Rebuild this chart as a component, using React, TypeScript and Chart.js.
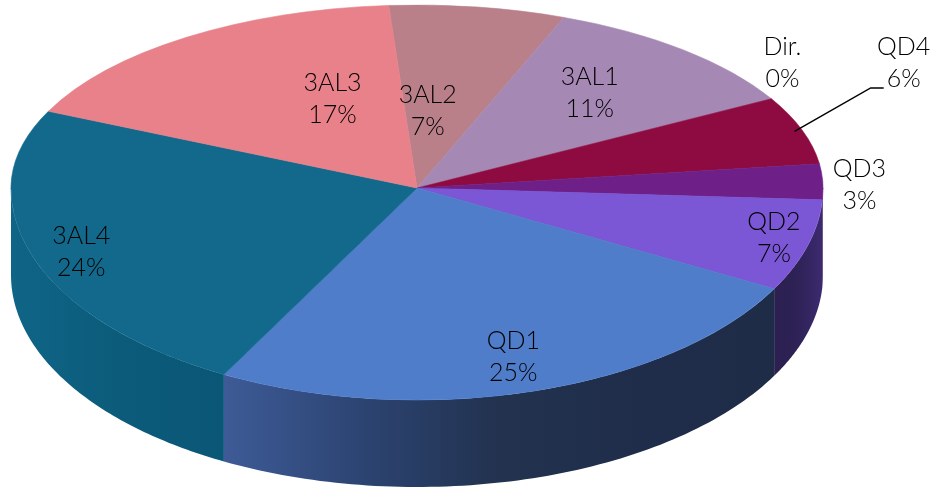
import React, { useEffect, useRef } from "react";
import { Chart, registerables } from "chart.js";

Chart.register(...registerables);

// ---- data (clockwise from the top) ----
const categories = ["3AL2", "3AL1", "Dir.", "QD4", "QD3", "QD2", "QD1", "3AL4", "3AL3"];
const shares = [7, 11, 0, 6, 3, 7, 25, 24, 17];

// ---- style ----
const topColors = [
  "#B9808A", "#A688B4", "#A688B4", "#8D0B40", "#6E2088",
  "#7B56D5", "#4F7DCA", "#12698B", "#E8818A",
];
const sideColors: string[][] = [
  ["#8E5F66", "#7A5058"],
  ["#7E6689", "#6A5574"],
  ["#7E6689", "#6A5574"],
  ["#6A0830", "#5A0628"],
  ["#4A1763", "#55196E"],
  ["#2B2050", "#2E2256", "#3C2A70"],
  ["#3E5B97", "#2C4472", "#22324F", "#1F2D4A", "#1F2C48"],
  ["#0F6586", "#0C5B7B", "#0A5677"],
  ["#B5606A", "#A0525C"],
];
// label placement: radial factor, angle tweak (deg), leader line
const labelLayout = [
  { r: 0.42, d: -5, leader: false },
  { r: 0.67, d: -1.6, leader: false },
  { r: 1.13, d: -8, leader: false },
  { r: 1.38, d: -11.3, leader: true },
  { r: 1.09, d: 1.2, leader: false },
  { r: 0.91, d: -0.8, leader: false },
  { r: 0.83, d: 0, leader: false },
  { r: 0.88, d: -1.6, leader: false },
  { r: 0.53, d: 11.5, leader: false },
];

// projected pie geometry
const CX = 417;
const CY = 188;
const RX = 406;
const RY_BACK = 183;
const RY_FRONT = 212;
const DEPTH = 87;
const FONT = "300 25px Lato, 'DejaVu Sans', sans-serif";

const ryOf = (phi: number) => (Math.sin(phi) > 0 ? RY_FRONT : RY_BACK);
const proj = (phi: number, k: number) => ({
  x: CX + k * RX * Math.cos(phi),
  y: CY + k * ryOf(phi) * Math.sin(phi),
});

const pie3d = {
  id: "pie3d",
  beforeDatasetsDraw(chart: any) {
    const ctx: CanvasRenderingContext2D = chart.ctx;
    const meta = chart.getDatasetMeta(0);
    // extruded sides (front half only)
    meta.data.forEach((arc: any, i: number) => {
      const a = Math.max(arc.startAngle, 0);
      const b = Math.min(arc.endAngle, Math.PI);
      if (b <= a) return;
      const N = 80;
      ctx.beginPath();
      for (let j = 0; j <= N; j++) {
        const t = a + ((b - a) * j) / N;
        const x = CX + RX * Math.cos(t);
        const y = CY + RY_FRONT * Math.sin(t);
        if (j === 0) ctx.moveTo(x, y);
        else ctx.lineTo(x, y);
      }
      for (let j = N; j >= 0; j--) {
        const t = a + ((b - a) * j) / N;
        ctx.lineTo(CX + RX * Math.cos(t), CY + RY_FRONT * Math.sin(t) + DEPTH);
      }
      ctx.closePath();
      const xl = CX + RX * Math.cos(b);
      const xr = CX + RX * Math.cos(a);
      const g = ctx.createLinearGradient(xl, 0, xr + 0.01, 0);
      const stops = sideColors[i];
      stops.forEach((c, s) => g.addColorStop(stops.length === 1 ? 0 : s / (stops.length - 1), c));
      ctx.fillStyle = g;
      ctx.fill();
    });
    // back half of the top face, drawn by Chart.js itself
    const el = meta.data[0];
    ctx.save();
    ctx.beginPath();
    ctx.rect(0, 0, chart.width, CY + 1);
    ctx.clip();
    ctx.translate(CX, CY);
    ctx.scale(RX / el.outerRadius, RY_BACK / el.outerRadius);
    ctx.translate(-el.x, -el.y);
  },
  afterDatasetsDraw(chart: any) {
    const ctx: CanvasRenderingContext2D = chart.ctx;
    ctx.restore();
    const meta = chart.getDatasetMeta(0);
    const el = meta.data[0];
    // front half of the top face
    ctx.save();
    ctx.beginPath();
    ctx.rect(0, CY, chart.width, chart.height - CY);
    ctx.clip();
    ctx.translate(CX, CY);
    ctx.scale(RX / el.outerRadius, RY_FRONT / el.outerRadius);
    ctx.translate(-el.x, -el.y);
    meta.data.forEach((arc: any) => arc.draw(ctx));
    ctx.restore();
  },
  afterDraw(chart: any) {
    const ctx: CanvasRenderingContext2D = chart.ctx;
    const meta = chart.getDatasetMeta(0);
    const total = shares.reduce((s, v) => s + v, 0);
    ctx.save();
    ctx.font = FONT;
    ctx.fillStyle = "#000";
    ctx.textAlign = "center";
    ctx.textBaseline = "middle";
    meta.data.forEach((arc: any, i: number) => {
      const mid = (arc.startAngle + arc.endAngle) / 2;
      const lay = labelLayout[i];
      const p = proj(mid + (lay.d * Math.PI) / 180, lay.r);
      const pct = Math.round((shares[i] / total) * 100) + "%";
      ctx.fillText(categories[i], p.x, p.y - 16);
      ctx.fillText(pct, p.x, p.y + 16);
      if (lay.leader) {
        const s = proj(mid, 0.98);
        ctx.beginPath();
        ctx.moveTo(s.x, s.y);
        ctx.lineTo(p.x - 33, p.y + 25);
        ctx.lineTo(p.x - 20, p.y + 25);
        ctx.strokeStyle = "#000";
        ctx.lineWidth = 1.5;
        ctx.stroke();
      }
    });
    ctx.restore();
  },
};

export default function App() {
  const ref = useRef<HTMLCanvasElement>(null);
  useEffect(() => {
    document.body.style.margin = "0";
    const chart = new Chart(ref.current as HTMLCanvasElement, {
      type: "pie",
      data: {
        labels: categories,
        datasets: [
          {
            data: shares,
            backgroundColor: topColors,
            borderColor: topColors,
            borderWidth: 0.5,
            clip: false,
          } as any,
        ],
      },
      options: {
        animation: false,
        responsive: false,
        rotation: -4,
        events: [],
        plugins: { legend: { display: false }, tooltip: { enabled: false } },
      },
      plugins: [pie3d],
    });
    return () => chart.destroy();
  }, []);
  return (
    <div style={{ width: 940, height: 492, background: "#fff" }}>
      <canvas ref={ref} width={940} height={492} style={{ display: "block" }} />
    </div>
  );
}
